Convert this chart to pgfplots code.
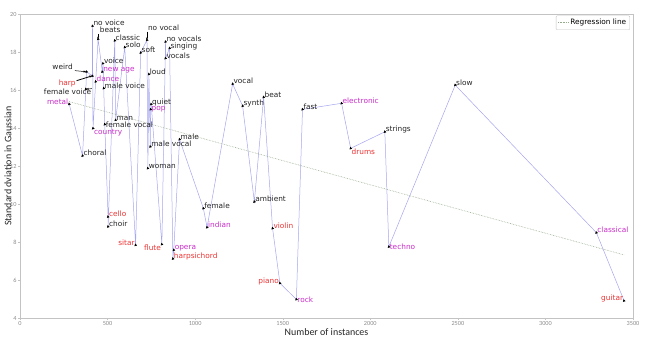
\documentclass[border=0pt]{standalone}
\usepackage{fontspec}
\setmainfont{DejaVu Sans}
\newfontfamily\axisfont{Carlito}
\usepackage{pgfplots}
\usepackage{pgfplotstable}
\pgfplotsset{compat=1.18}
\usetikzlibrary{arrows.meta}

\definecolor{desccol}{RGB}{35,35,35}
\definecolor{instcol}{RGB}{235,50,50}
\definecolor{genrecol}{RGB}{200,45,200}
\definecolor{linkcol}{RGB}{165,165,240}
\definecolor{regcol}{RGB}{150,170,140}
\definecolor{framecol}{RGB}{195,195,195}

% tag classes: descriptive, instrument, genre
\protected\def\D#1{\textcolor{desccol}{#1}}
\protected\def\I#1{\textcolor{instcol}{#1}}
\protected\def\G#1{\textcolor{genrecol}{#1}}

% number of instances, std. deviation, label placement code, tag
% placement: 0 set apart with an arrow, 1 base west, 2 base east,
%            3 west, 4 north west, 5 north east
\pgfplotstableread{
x y a label
281 15.26 2 {\G{metal}}
357 12.54 1 {\D{choral}}
376 16.05 0 {\D{female voice}}
380 16.96 0 {\D{weird}}
413 16.74 0 {\I{harp}}
414 19.37 1 {\D{no voice}}
417 13.98 4 {\G{country}}
432 16.44 1 {\G{dance}}
446 18.68 0 {\D{beats}}
470 16.96 1 {\G{new age}}
474 17.40 1 {\D{voice}}
478 16.09 1 {\D{male voice}}
484 14.19 3 {\D{female vocal}}
503 9.33 1 {\I{cello}}
503 8.81 1 {\D{choir}}
541 18.60 1 {\D{classic}}
546 14.42 1 {\D{man}}
598 18.25 1 {\D{solo}}
660 7.84 2 {\I{sitar}}
689 17.96 1 {\D{soft}}
725 18.63 0 {\D{no vocal}}
730 11.88 1 {\D{woman}}
736 16.83 1 {\D{loud}}
744 13.02 1 {\D{male vocal}}
746 14.98 3 {\G{pop}}
749 15.25 1 {\D{quiet}}
810 7.88 5 {\I{flute}}
831 18.54 1 {\D{no vocals}}
831 17.67 1 {\D{vocals}}
854 18.20 1 {\D{singing}}
873 7.12 1 {\I{harpsichord}}
878 7.58 1 {\G{opera}}
911 13.40 1 {\D{male}}
1047 9.77 1 {\D{female}}
1068 8.77 1 {\G{indian}}
1214 16.32 1 {\D{vocal}}
1271 15.16 1 {\D{synth}}
1338 10.12 1 {\D{ambient}}
1391 15.62 1 {\D{beat}}
1442 8.72 1 {\I{violin}}
1484 5.83 2 {\I{piano}}
1578 4.98 3 {\G{rock}}
1613 14.98 1 {\D{fast}}
1836 15.30 1 {\G{electronic}}
1888 12.93 4 {\I{drums}}
2083 13.80 1 {\D{strings}}
2106 7.75 3 {\G{techno}}
2485 16.26 1 {\D{slow}}
3291 8.49 1 {\G{classical}}
3449 4.91 2 {\I{guitar}}
}\tags

\pgfplotsset{
  taglabels/.style n args={2}{
    draw=none, mark=none, forget plot,
    nodes near coords, point meta=explicit symbolic,
    restrict expr to domain={\thisrow{a}}{#1:#1},
    every node near coord/.append style={anchor=#2, inner sep=0.8pt,
      font=\fontsize{7.4}{9}\selectfont},
  },
}

\begin{document}
\begin{tikzpicture}
\path[use as bounding box] (-20bp,-20bp) rectangle (634bp,318bp);
\begin{axis}[
  at={(0,0)}, anchor=south west,
  scale only axis, width=613bp, height=304bp,
  xmin=0, xmax=3500, ymin=4, ymax=20,
  xtick={0,500,...,3500}, ytick={4,6,...,20},
  axis line style={framecol},
  tick style={framecol}, major tick length=2bp, tick align=outside,
  xtick pos=bottom, ytick pos=left,
  /pgf/number format/assume math mode=true,
  /pgf/number format/1000 sep={},
  ticklabel style={font=\axisfont\fontsize{6.3}{7}\selectfont, text=black!45,
    inner sep=1.2pt},
  xlabel={Number of instances},
  ylabel={Standard dviation in Gaussian},
  label style={font=\axisfont\fontsize{10}{12}\selectfont, text=black!85},
  xlabel style={at={(axis description cs:0.5,-0.047)}, anchor=center},
  ylabel style={at={(axis description cs:-0.0196,0.5)}, anchor=center},
  legend style={at={(0.995,0.995)}, anchor=north east, draw=framecol,
    font=\fontsize{7.4}{9}\selectfont, inner sep=1.5bp, rounded corners=1pt,
    row sep=0pt},
  legend cell align=left,
  legend image code/.code={\draw[#1] (0bp,0bp) -- (10bp,0bp);},
]
% tags joined in order of instance count
\addplot[linkcol, line width=0.5pt, forget plot,
  mark=triangle*, mark size=1.1pt,
  mark options={black, solid, rotate=135},
] table[x=x, y=y] {\tags};

% tag names beside their points
\addplot[taglabels={1}{base west}] table[x=x, y=y, meta=label] {\tags};
\addplot[taglabels={2}{base east}] table[x=x, y=y, meta=label] {\tags};
\addplot[taglabels={3}{west}] table[x=x, y=y, meta=label] {\tags};
\addplot[taglabels={4}{north west}] table[x=x, y=y, meta=label] {\tags};
\addplot[taglabels={5}{north east}] table[x=x, y=y, meta=label] {\tags};

% tag names set off from their points with an arrow
\begin{scope}[font=\fontsize{7.4}{9}\selectfont, inner sep=0pt]
\node[anchor=base east, text=desccol] at (axis cs:302,17.08) {weird};
\draw[-{Stealth[length=2.5bp,width=2bp]}, black, line width=0.5pt]
  (axis cs:313,17.02) -- (axis cs:377,16.96);
\node[anchor=base east, text=instcol] at (axis cs:319,16.24) {harp};
\draw[-{Stealth[length=2.5bp,width=2.2bp]}, black, line width=0.8pt]
  (axis cs:323,16.49) -- (axis cs:410,16.74);
\node[anchor=base east, text=desccol] at (axis cs:408,15.74) {female voice};
\draw[-{Stealth[length=2.5bp,width=2bp]}, black, line width=0.5pt]
  (axis cs:410,16.07) -- (axis cs:379,16.05);
\node[anchor=base west, text=desccol] at (axis cs:455,19.02) {beats};
\draw[-{Stealth[length=2bp,width=2bp]}, black, line width=0.5pt]
  (axis cs:446,18.95) -- (axis cs:446,18.70);
\node[anchor=base west, text=desccol] at (axis cs:730,19.13) {no vocal};
\draw[-{Stealth[length=2bp,width=2bp]}, black, line width=0.5pt]
  (axis cs:725,19.07) -- (axis cs:725,18.66);
\end{scope}

\addplot[regcol, densely dotted, line width=0.6pt]
  coordinates {(281,15.39) (3449,7.32)};
\addlegendentry{Regression line}
\end{axis}
\end{tikzpicture}
\end{document}
